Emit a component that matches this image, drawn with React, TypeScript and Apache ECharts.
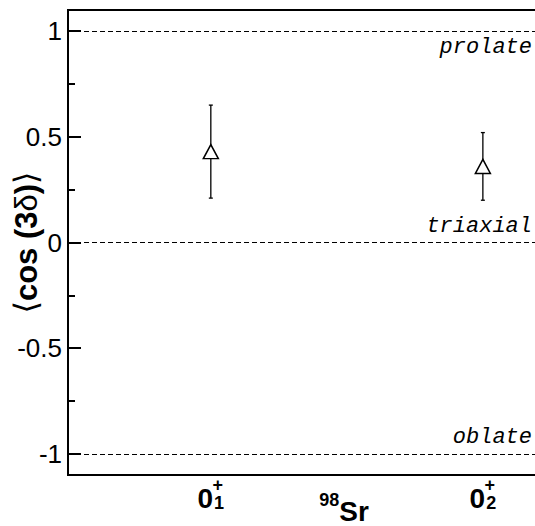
import React, { useEffect, useRef } from "react";
import * as echarts from "echarts";

const xPositions = [1, 3];
const stateSub = ["1", "2"];
const cos3d = [0.43, 0.36];
const errUpper = [0.65, 0.52];
const errLower = [0.21, 0.2];
const refLevels = [1, 0, -1];
const refNames = ["prolate", "triaxial", "oblate"];
const yMajorTicks = [-1, -0.5, 0, 0.5, 1];
const yMinorTicks = [-0.75, -0.25, 0.25, 0.75];
const nucleusMass = "98";
const nucleusSymbol = "Sr";

const SANS = "'Liberation Sans', Arial, Helvetica, sans-serif";
const MONO = "'Liberation Mono', 'Courier New', monospace";

export default function App() {
  const ref = useRef<HTMLDivElement>(null);
  useEffect(() => {
    const chart = echarts.init(ref.current!, null, { renderer: "svg" });
    const xMin = -0.05;
    const xMax = 3.42;
    const yMin = -1.1;
    const yMax = 1.1;
    const option: any = {
      animation: false,
      grid: {
        left: 68,
        right: -5,
        top: 10,
        bottom: 51,
        show: true,
        borderColor: "#000",
        borderWidth: 2,
        backgroundColor: "transparent",
        containLabel: false,
        outerBoundsMode: "none",
      },
      xAxis: [
        {
          type: "value",
          min: xMin,
          max: xMax,
          position: "bottom",
          axisLine: { show: true, onZero: false, lineStyle: { color: "#000", width: 2 } },
          axisTick: { show: false },
          splitLine: { show: false },
          axisLabel: {
            customValues: xPositions,
            margin: 17,
            formatter: (v: number) => {
              const i = xPositions.indexOf(v);
              return `{z|0}{s|${stateSub[i]}}`;
            },
            rich: {
              z: { fontSize: 28, lineHeight: 20, fontWeight: "bold", fontFamily: SANS, color: "#000", verticalAlign: "bottom" },
              s: { fontSize: 18, lineHeight: 20, fontWeight: "bold", fontFamily: SANS, color: "#000", verticalAlign: "bottom", padding: [0, 0, 0, 1] },
            },
          },
          name: `{m|${nucleusMass}}{e|${nucleusSymbol}}`,
          nameLocation: "middle",
          nameGap: 16,
          nameMoveOverlap: false,
          nameTextStyle: {
            padding: [0, 0, 0, 80],
            rich: {
              m: { fontSize: 18, fontWeight: "bold", fontFamily: SANS, color: "#000", verticalAlign: "top" },
              e: { fontSize: 28, fontWeight: "bold", fontFamily: SANS, color: "#000", verticalAlign: "bottom", padding: [6, 0, 0, 0] },
            },
          },
        },
        {
          type: "value",
          min: xMin,
          max: xMax,
          position: "bottom",
          axisLine: { show: false },
          axisTick: { show: false },
          splitLine: { show: false },
          axisLabel: {
            customValues: xPositions,
            margin: 5,
            formatter: () => "+",
            padding: [0, 0, 0, 14],
            fontSize: 18,
            lineHeight: 10,
            fontWeight: "bold",
            fontFamily: SANS,
            color: "#000",
          },
        },
      ],
      yAxis: [
        {
          type: "value",
          min: yMin,
          max: yMax,
          position: "left",
          axisLine: { show: true, onZero: false, lineStyle: { color: "#000", width: 2 } },
          axisTick: {
            show: true,
            inside: true,
            length: 13,
            customValues: yMajorTicks,
            lineStyle: { color: "#000", width: 2 },
          },
          axisLabel: {
            customValues: yMajorTicks,
            margin: 6,
            fontSize: 26,
            color: "#000",
            fontFamily: SANS,
            formatter: (v: number) => String(v),
          },
          splitLine: { show: false },
          name: "{a|⟨}{b|cos (3}{c|δ}{b|)}{a|⟩}",
          nameLocation: "middle",
          nameGap: 26,
          nameRotate: 90,
          nameMoveOverlap: false,
          nameTextStyle: {
            rich: {
              a: { fontSize: 32, fontFamily: "'DejaVu Sans', sans-serif", color: "#000" },
              b: { fontSize: 31, fontWeight: "bold", fontFamily: SANS, color: "#000" },
              c: { fontSize: 31, fontFamily: SANS, color: "#000" },
            },
          },
        },
        {
          type: "value",
          min: yMin,
          max: yMax,
          position: "left",
          offset: 0,
          axisLine: { show: false, onZero: false },
          axisTick: {
            show: true,
            inside: true,
            length: 7,
            customValues: yMinorTicks,
            lineStyle: { color: "#000", width: 2 },
          },
          axisLabel: { show: false },
          splitLine: { show: false },
        },
      ],
      series: [
        {
          type: "custom",
          xAxisIndex: 0,
          yAxisIndex: 0,
          z: 2,
          encode: { x: 0, y: [1, 2] },
          data: xPositions.map((x, i) => [x, errLower[i], errUpper[i]]),
          renderItem: (params: any, api: any) => {
            const lo = api.coord([api.value(0), api.value(1)]);
            const hi = api.coord([api.value(0), api.value(2)]);
            const w = 2;
            const st = { stroke: "#000", lineWidth: 1.3 };
            return {
              type: "group",
              children: [
                { type: "line", shape: { x1: lo[0], y1: lo[1], x2: hi[0], y2: hi[1] }, style: st },
                { type: "line", shape: { x1: lo[0] - w, y1: lo[1], x2: lo[0] + w, y2: lo[1] }, style: st },
                { type: "line", shape: { x1: hi[0] - w, y1: hi[1], x2: hi[0] + w, y2: hi[1] }, style: st },
              ],
            };
          },
        },
        {
          type: "scatter",
          xAxisIndex: 0,
          yAxisIndex: 0,
          z: 3,
          symbol: "triangle",
          symbolSize: [15, 14],
          itemStyle: { color: "#fff", borderColor: "#000", borderWidth: 1.5, opacity: 1 },
          data: xPositions.map((x, i) => [x, cos3d[i]]),
          markLine: {
            silent: true,
            symbol: "none",
            animation: false,
            lineStyle: { type: [5, 3], color: "#000", width: 1 },
            label: {
              fontFamily: MONO,
              fontStyle: "italic",
              fontSize: 22,
              color: "#000",
              distance: [8, 5],
            },
            data: refLevels.map((y, i) => ({
              yAxis: y,
              label: {
                formatter: refNames[i],
                position: y === 0 || y < 0 ? "insideEndTop" : "insideEndBottom",
              },
            })),
          },
        },
      ],
    };
    chart.setOption(option);
    return () => chart.dispose();
  }, []);
  return <div ref={ref} style={{ width: 535, height: 526, position: "absolute", left: 0, top: 0 }} />;
}
